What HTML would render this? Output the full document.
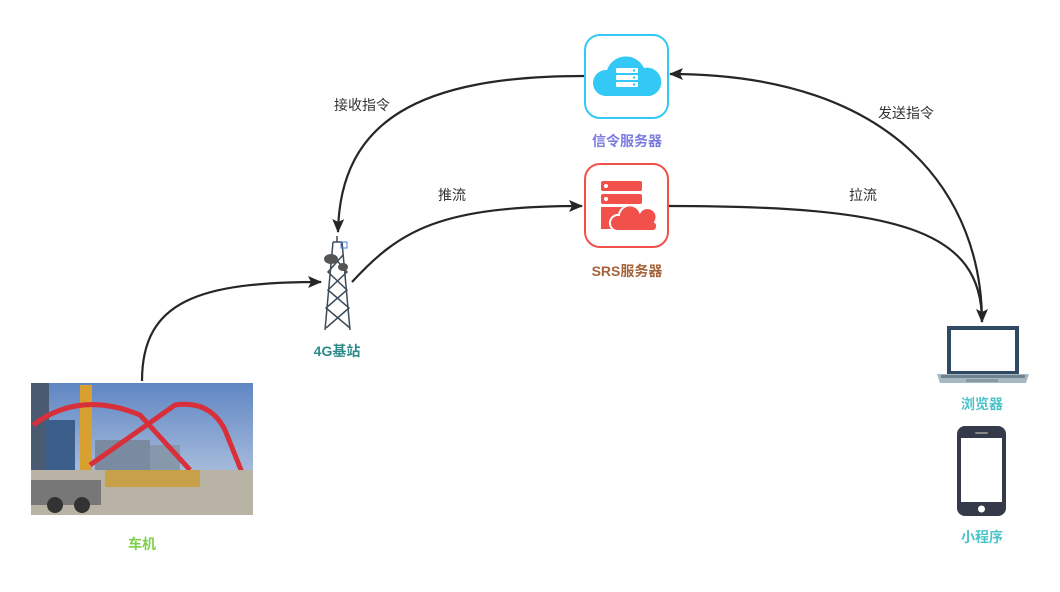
<!DOCTYPE html>
<html><head><meta charset="utf-8"><style>
html,body{margin:0;padding:0;background:#fff;}
svg text{font-family:"Liberation Sans","Noto Sans CJK SC",sans-serif;}
</style></head><body>
<svg width="1060" height="587" viewBox="0 0 1060 587" xmlns="http://www.w3.org/2000/svg">
<defs>
<marker id="ar" viewBox="0 0 14 12" refX="13" refY="6" markerWidth="15" markerHeight="12" orient="auto-start-reverse" markerUnits="userSpaceOnUse">
<path d="M0,0 L14,6 L0,12 L3,6 Z" fill="#262626"/></marker>
<linearGradient id="sky" x1="0" y1="0" x2="0" y2="1"><stop offset="0" stop-color="#5f86c4"/><stop offset="1" stop-color="#c9d5e6"/></linearGradient>
</defs>
<g fill="none" stroke="#262626" stroke-width="2.2">
<path d="M584,76 C420,76 340,120 338,232" marker-end="url(#ar)"/>
<path d="M670,74 C900,74 982,200 982,322" marker-start="url(#ar)" marker-end="url(#ar)"/>
<path d="M352,282 C400,230 440,206 582,206" marker-end="url(#ar)"/>
<path d="M668,206 C900,206 982,230 982,322" />
<path d="M142,381 C142,300 200,282 321,282" marker-end="url(#ar)"/>
</g>
<g font-size="14" fill="#333" text-anchor="middle">
<text x="362" y="110">接收指令</text>
<text x="452" y="200">推流</text>
<text x="906" y="118">发送指令</text>
<text x="863" y="200">拉流</text>
</g>
<!-- signal server -->
<rect x="585" y="35" width="83" height="83" rx="15" fill="#fff" stroke="#33c8f5" stroke-width="2"/>
<path d="M605,96 a13,13 0 0 1 2,-26 a20,20 0 0 1 37,-2 a14,14 0 0 1 6,28 Z" fill="#33c8f5"/>
<g fill="#fff"><rect x="616" y="68" width="22" height="5" rx="1"/><rect x="616" y="75" width="22" height="5" rx="1"/><rect x="616" y="82" width="22" height="5" rx="1"/></g>
<g fill="#33c8f5"><circle cx="634" cy="70.5" r="1.2"/><circle cx="634" cy="77.5" r="1.2"/><circle cx="634" cy="84.5" r="1.2"/></g>
<text x="627" y="146" font-size="14" font-weight="bold" fill="#7b7be0" text-anchor="middle">信令服务器</text>
<!-- SRS server -->
<rect x="585" y="164" width="83" height="83" rx="15" fill="#fff" stroke="#f2504a" stroke-width="2"/>
<g fill="#f2504a"><rect x="601" y="181" width="41" height="10" rx="2"/><rect x="601" y="194" width="41" height="10" rx="2"/><rect x="601" y="207" width="24" height="22"/></g>
<path d="M617,231 a8,8 0 0 1 2,-16 a11,11 0 0 1 21,-3 a9,9 0 0 1 15,10 a5,5 0 0 1 -2,9 Z" fill="#f2504a" stroke="#fff" stroke-width="2"/>
<g fill="#fff"><circle cx="606" cy="186" r="2"/><circle cx="606" cy="199" r="2"/></g>
<text x="627" y="276" font-size="14" font-weight="bold" fill="#a5633a" text-anchor="middle">SRS服务器</text>
<!-- tower -->
<g stroke="#3c4a5a" stroke-width="1.5" fill="none">
<path d="M333,242 L325,330 M342,242 L350,330 M333,242 L342,242"/>
<path d="M332,255 L347,272 L328,290 L349,308 L326,328 M343,255 L328,272 L347,290 L326,308 L350,328"/>
<line x1="337" y1="236" x2="337" y2="242"/>
</g>
<rect x="341" y="242" width="6" height="6" fill="none" stroke="#4a7fd6" stroke-width="1"/>
<ellipse cx="331" cy="259" rx="7" ry="5" fill="#555"/><ellipse cx="343" cy="267" rx="5" ry="4" fill="#555"/>
<text x="337" y="356" font-size="14" font-weight="bold" fill="#2e8b8b" text-anchor="middle">4G基站</text>
<!-- photo -->
<rect x="31" y="383" width="222" height="132" fill="url(#sky)"/>
<rect x="31" y="383" width="18" height="90" fill="#4a5a70"/>
<rect x="45" y="420" width="30" height="55" fill="#3b5f8a"/>
<rect x="95" y="440" width="55" height="35" fill="#7a8aa0"/>
<rect x="150" y="445" width="30" height="30" fill="#8898ac"/>
<rect x="80" y="385" width="12" height="90" fill="#d8a030"/>
<g stroke="#d8303a" stroke-width="5" fill="none"><path d="M33,425 Q80,390 140,415 L190,470"/><path d="M90,465 L175,405 Q210,400 225,430 L245,480"/></g>
<rect x="31" y="470" width="222" height="45" fill="#b9b3a5"/>
<rect x="105" y="470" width="95" height="17" fill="#c9a04a"/>
<rect x="31" y="480" width="70" height="25" fill="#777"/>
<circle cx="55" cy="505" r="8" fill="#333"/><circle cx="82" cy="505" r="8" fill="#333"/>
<text x="142" y="549" font-size="14" font-weight="bold" fill="#7ed04a" text-anchor="middle">车机</text>
<!-- laptop -->
<rect x="947" y="326" width="72" height="48" fill="#2f4a62"/>
<rect x="951" y="330" width="64" height="41" fill="#fff"/>
<path d="M937,374 L1029,374 L1026,383 L940,383 Z" fill="#a8b8c2"/>
<rect x="941" y="375" width="84" height="3" fill="#6f8290"/>
<rect x="966" y="379" width="32" height="3" fill="#8a9aa4"/>
<text x="982" y="409" font-size="14" font-weight="bold" fill="#4cc3c9" text-anchor="middle">浏览器</text>
<!-- phone -->
<rect x="957" y="426" width="49" height="90" rx="8" fill="#353a4a"/>
<rect x="961" y="438" width="41" height="64" fill="#fff"/>
<rect x="975" y="432" width="13" height="2" rx="1" fill="#888"/>
<circle cx="981.5" cy="509" r="3.5" fill="#fff"/>
<text x="982" y="542" font-size="14" font-weight="bold" fill="#4cc3c9" text-anchor="middle">小程序</text>
</svg>
</body></html>
